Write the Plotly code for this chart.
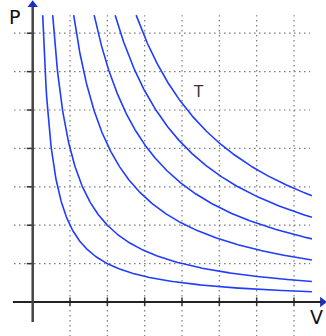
import numpy as np
import plotly.graph_objects as go

# Isotherm constants (P*V = k)
iso_k = [2.0, 4.0, 8.2, 12.3, 16.5, 20.7]
grid_x = [1, 2, 3, 4, 5, 6, 7]
grid_y = [1, 2, 3, 4, 5, 6, 7]
p_top = 7.47
v_right = 7.48

x_range = [-0.876, 7.857]
y_range = [-0.885, 7.865]

fig = go.Figure()

shapes = []
# dotted grid
for gx in grid_x:
    shapes.append(dict(type="line", xref="x", yref="y", x0=gx, x1=gx, y0=-0.9, y1=7.47,
                       line=dict(color="#7a7a7a", width=1.2, dash="1.5px,3.5px"), layer="below"))
for gy in grid_y:
    shapes.append(dict(type="line", xref="x", yref="y", x0=-0.5, x1=7.43, y0=gy, y1=gy,
                       line=dict(color="#7a7a7a", width=1.2, dash="1.5px,3.5px"), layer="below"))
# tick marks
for gx in grid_x:
    shapes.append(dict(type="line", xref="x", yref="y", x0=gx, x1=gx, y0=-0.1, y1=0.12,
                       line=dict(color="#333333", width=1.5)))
for gy in grid_y:
    shapes.append(dict(type="line", xref="x", yref="y", x0=-0.16, x1=0.02, y0=gy, y1=gy,
                       line=dict(color="#333333", width=1.5)))
# axes
shapes.append(dict(type="line", xref="x", yref="y", x0=-0.53, x1=7.72, y0=0, y1=0,
                   line=dict(color="#222222", width=2)))
shapes.append(dict(type="line", xref="x", yref="y", x0=0, x1=0, y0=-0.52, y1=7.68,
                   line=dict(color="#444444", width=2.5)))

for k in iso_k:
    v = np.linspace(k / p_top, v_right, 400)
    fig.add_trace(go.Scatter(x=v, y=k / v, mode="lines",
                             line=dict(color="#1f3cff", width=1.6),
                             hoverinfo="skip", showlegend=False))

# arrowheads
fig.add_trace(go.Scatter(x=[7.76], y=[0], mode="markers",
                         marker=dict(symbol="triangle-right", size=9, color="#1a2fc8"),
                         hoverinfo="skip", showlegend=False))
fig.add_trace(go.Scatter(x=[0], y=[7.74], mode="markers",
                         marker=dict(symbol="triangle-up", size=9, color="#1a2fc8"),
                         hoverinfo="skip", showlegend=False))

annotations = [
    dict(x=-0.5, y=7.43, xref="x", yref="y", text="P", showarrow=False,
         font=dict(family="DejaVu Sans", size=19, color="#111111")),
    dict(x=7.6, y=-0.38, xref="x", yref="y", text="V", showarrow=False,
         font=dict(family="DejaVu Sans", size=19, color="#111111")),
    dict(x=4.45, y=5.48, xref="x", yref="y", text="T", showarrow=False,
         font=dict(family="DejaVu Sans", size=15, color="#333333")),
]

fig.update_layout(
    width=326, height=336,
    margin=dict(l=0, r=0, t=0, b=0),
    paper_bgcolor="white", plot_bgcolor="white",
    xaxis=dict(range=x_range, visible=False, fixedrange=True),
    yaxis=dict(range=y_range, visible=False, fixedrange=True),
    shapes=shapes, annotations=annotations,
)

fig.write_html("out.html")
